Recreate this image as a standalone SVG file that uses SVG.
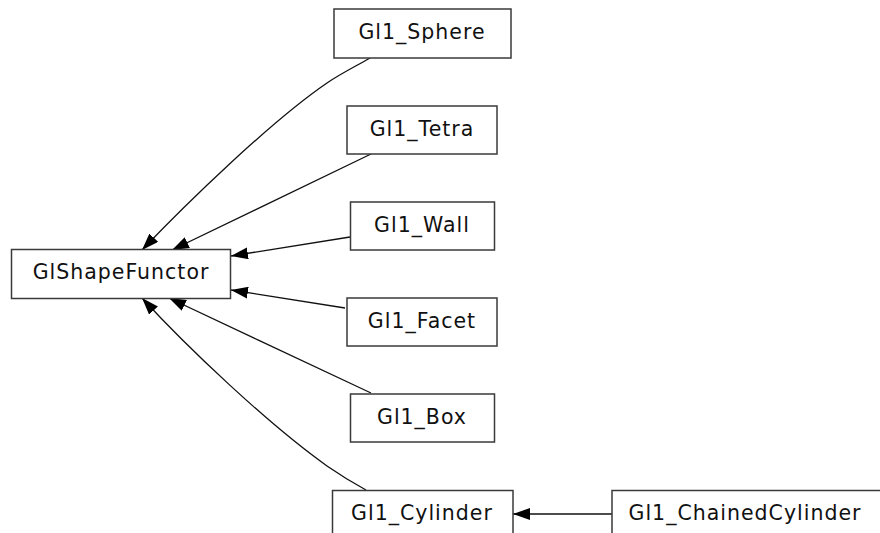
<svg xmlns="http://www.w3.org/2000/svg" width="880" height="533" viewBox="0 0 880 533">
<style>
.node rect{fill:#fff;stroke:#3a3a3a;stroke-width:1.5}
.node text{font-family:"DejaVu Sans",sans-serif;font-size:20.5px;letter-spacing:1px;fill:#111;text-anchor:middle}
.edge{fill:none;stroke:#111;stroke-width:1.3;marker-end:url(#arr)}
</style>
<defs>
<marker id="arr" viewBox="0 0 17 12" refX="17" refY="6" markerWidth="17" markerHeight="12" markerUnits="userSpaceOnUse" orient="auto">
<path d="M0,0 L17,6 L0,12 z" fill="#000"/>
</marker>
</defs>
<rect width="880" height="533" fill="#fff"/>
<g id="connectors">
<path class="edge" d="M370,58 C358,65 340,74 327,83 C270,122 185,205 142,250"/>
<path class="edge" d="M371,154 C320,179 230,222 172,250"/>
<path class="edge" d="M350,237 L231,256"/>
<path class="edge" d="M345,308 L231,290"/>
<path class="edge" d="M371,393 C320,369 230,327 169,298"/>
<path class="edge" d="M366,490 C355,484 340,475 327,466 C268,424 187,347 142,298"/>
<path class="edge" d="M612,514 L513,514"/>
</g>
<g id="GlShapeFunctor" class="node"><rect x="11.5" y="249.5" width="219" height="49"/><text x="121" y="279">GlShapeFunctor</text></g>
<g id="Gl1_Sphere" class="node"><rect x="334" y="9" width="177" height="49"/><text x="422" y="38.5">Gl1_Sphere</text></g>
<g id="Gl1_Tetra" class="node"><rect x="347" y="106" width="150" height="48"/><text x="422" y="135.5">Gl1_Tetra</text></g>
<g id="Gl1_Wall" class="node"><rect x="350.5" y="202" width="144" height="48"/><text x="422" y="231.5">Gl1_Wall</text></g>
<g id="Gl1_Facet" class="node"><rect x="347" y="298" width="150" height="48"/><text x="422" y="327.5">Gl1_Facet</text></g>
<g id="Gl1_Box" class="node"><rect x="350.5" y="394" width="144" height="48"/><text x="422" y="423.5">Gl1_Box</text></g>
<g id="Gl1_Cylinder" class="node"><rect x="332.5" y="490.5" width="180.5" height="49"/><text x="422" y="520">Gl1_Cylinder</text></g>
<g id="Gl1_ChainedCylinder" class="node"><rect x="612" y="490.5" width="280" height="49"/><text x="745" y="520">Gl1_ChainedCylinder</text></g>
</svg>
